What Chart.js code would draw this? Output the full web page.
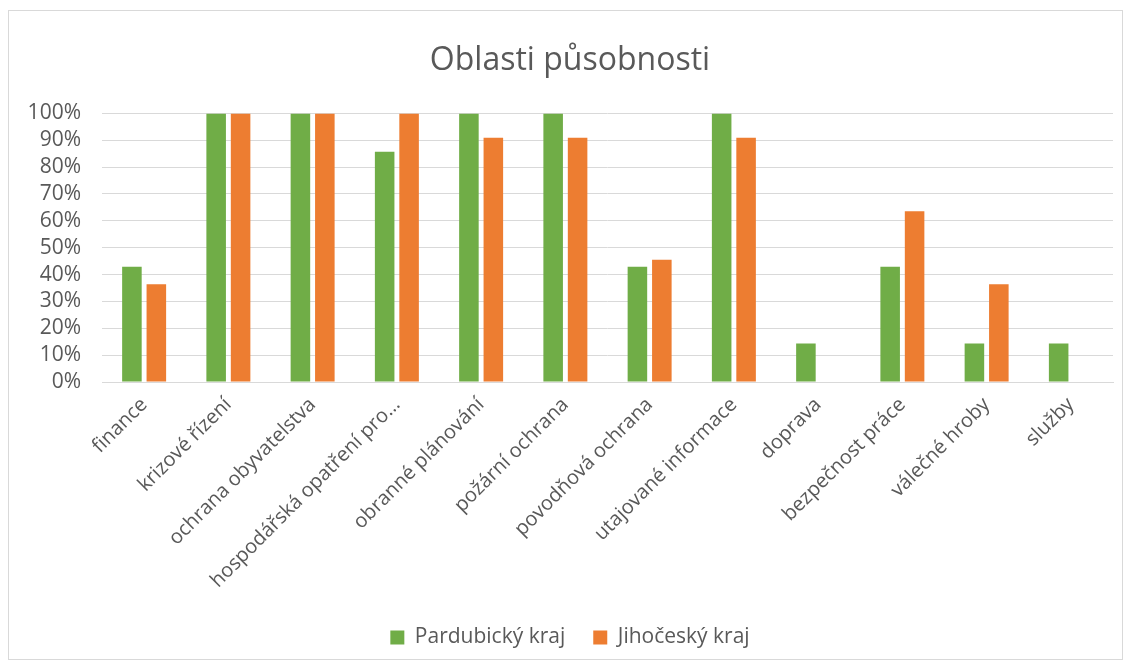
<!DOCTYPE html>
<html>
<head>
<meta charset="utf-8">
<script src="https://cdn.jsdelivr.net/npm/chart.js@4"></script>
<style>
  html, body { margin: 0; padding: 0; background: #fff; }
  #frame {
    position: absolute; left: 8px; top: 10px;
    width: 1115px; height: 650px;
    border: 1px solid #d9d9d9; box-sizing: border-box;
  }
</style>
</head>
<body>
<div id="frame"><canvas id="chart"></canvas></div>
<script>
// Categories and series values (share of respondents, %)
const categories = [
  'finance', 'krizové řízení', 'ochrana obyvatelstva', 'hospodářská opatření pro…',
  'obranné plánování', 'požární ochrana', 'povodňová ochrana', 'utajované informace',
  'doprava', 'bezpečnost práce', 'válečné hroby', 'služby'
];
const pardubicky = [42.9, 100, 100, 85.7, 100, 100, 42.9, 100, 14.3, 42.9, 14.3, 14.3];
const jihocesky = [36.4, 100, 100, 100, 90.9, 90.9, 45.5, 90.9, 0, 63.6, 36.4, 0];
const yTicks = [0, 10, 20, 30, 40, 50, 60, 70, 80, 90, 100];

const textColor = '#595959';
const font = '"Open Sans", "Liberation Sans", sans-serif';

new Chart(document.getElementById('chart'), {
    type: 'bar',
    data: {
        labels: categories,
        datasets: [
            { label: 'Pardubický kraj', data: pardubicky, backgroundColor: '#70ad47' },
            { label: 'Jihočeský kraj', data: jihocesky, backgroundColor: '#ed7d31' }
        ]
    },
    options: {
        responsive: true,
        maintainAspectRatio: false,
        animation: false,
        datasets: { bar: { categoryPercentage: 0.58, barPercentage: 0.8 } },
        layout: { padding: { left: 18, right: 9, top: 0, bottom: 1 } },
        plugins: {
            title: {
                display: true,
                text: 'Oblasti působnosti',
                color: textColor,
                font: { family: font, size: 32, weight: 'normal' },
                padding: { top: 31, bottom: 33 }
            },
            legend: {
                position: 'bottom',
                labels: {
                    color: textColor,
                    font: { family: font, size: 21 },
                    boxWidth: 14, boxHeight: 14,
                    padding: 28
                }
            },
            tooltip: { enabled: false }
        },
        scales: {
            x: {
                grid: { display: false },
                border: { color: '#d9d9d9' },
                ticks: {
                    color: textColor,
                    font: { family: font, size: 20 },
                    maxRotation: 45, minRotation: 45,
                    autoSkip: false
                },
                afterFit: (s) => { s.height = 217; }
            },
            y: {
                min: 0, max: 100,
                afterBuildTicks: (s) => { s.ticks = yTicks.map(v => ({ value: v })); },
                grid: { color: '#d9d9d9', drawTicks: false },
                border: { display: false },
                ticks: {
                    color: textColor,
                    font: { family: font, size: 21 },
                    padding: 21,
                    autoSkip: false,
                    callback: (v) => v + '%'
                },
                afterFit: (s) => { s.width = 75; }
            }
        }
    }
});
</script>
</body>
</html>
